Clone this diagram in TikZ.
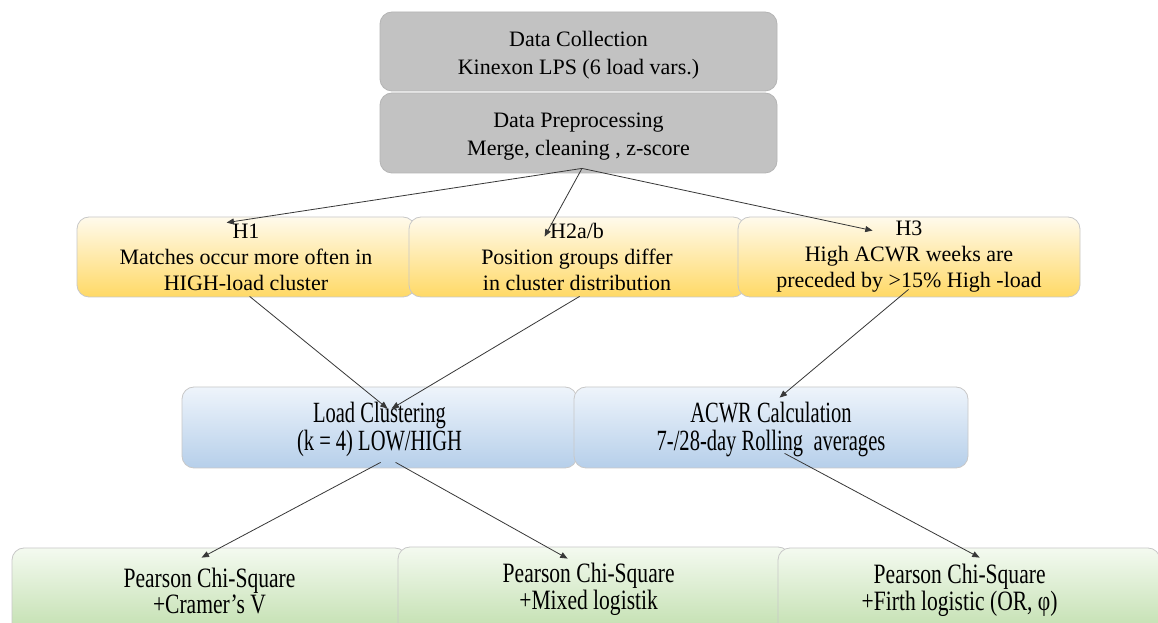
\documentclass[tikz,border=0pt]{standalone}
\usepackage{fontspec}
\setmainfont{Liberation Serif}
\newfontfamily\lcfont[FakeStretch=0.7]{Liberation Serif}
\newfontfamily\btfont[FakeStretch=0.77]{Liberation Serif}
\usetikzlibrary{arrows.meta}
\definecolor{grayfill}{RGB}{194,194,194}
\definecolor{grayedge}{RGB}{180,180,180}
\definecolor{edgec}{RGB}{200,200,200}
\definecolor{yeltop}{RGB}{255,250,236}
\definecolor{yelmid}{RGB}{255,238,186}
\definecolor{yelbot}{RGB}{255,217,102}
\definecolor{bluetop}{RGB}{238,244,251}
\definecolor{bluemid}{RGB}{214,228,244}
\definecolor{bluebot}{RGB}{182,207,234}
\definecolor{greentop}{RGB}{244,250,240}
\definecolor{greenmid}{RGB}{220,238,208}
\definecolor{greenbot}{RGB}{190,221,170}
\definecolor{linec}{RGB}{55,55,55}
\begin{document}
\begin{tikzpicture}[x=0.75pt,y=-0.75pt,
  box/.style={rectangle, rounded corners=9pt, draw=edgec, line width=0.6pt, inner sep=0pt},
  txt/.style={align=center, inner sep=0pt},
  graybox/.style={box, fill=grayfill, draw=grayedge, minimum width=297.75pt},
  graytxt/.style={txt, font=\fontsize{16.5pt}{21pt}\selectfont},
  hypbox/.style={box, top color=yeltop, middle color=yelmid, bottom color=yelbot, minimum height=60pt},
  hyptxt/.style={txt, font=\fontsize{16.5pt}{19.5pt}\selectfont},
  calcbox/.style={box, top color=bluetop, middle color=bluemid, bottom color=bluebot, minimum height=60.75pt},
  calctxt/.style={txt, font=\lcfont\fontsize{22pt}{21pt}\selectfont},
  testbox/.style={box, top color=greentop, middle color=greenmid, bottom color=greenbot, minimum height=69pt},
  testtxt/.style={txt, font=\btfont\fontsize{21pt}{17pt}\selectfont},
  conn/.style={draw=linec, line width=0.6pt, -{Triangle[length=5.5pt,width=4.5pt]}}]
\clip (0,0) rectangle (1158,623);
\fill[white] (0,0) rectangle (1158,623);

\node[graybox, minimum height=59.25pt] (dc) at (578.5,51.5) {};
\node[graytxt] (dct) at ([yshift=-3pt]dc.center) {Data Collection\\Kinexon LPS (6 load vars.)};
\node[graybox, minimum height=60pt] (pp) at (578.5,133) {};
\node[graytxt] (ppt) at ([yshift=-3pt]pp.center) {Data Preprocessing\\Merge, cleaning , z-score};

\node[hypbox, minimum width=253.5pt] (h1) at (246,257) {};
\node[hyptxt] (h1t) at (h1.center) {H1\\Matches occur more often in\\HIGH-load cluster};
\node[hypbox, minimum width=252pt] (h2) at (577,257) {};
\node[hyptxt] (h2t) at (h2.center) {H2a/b\\Position groups differ\\in cluster distribution};
\node[hypbox, minimum width=256.5pt] (h3) at (909,257) {};
\node[hyptxt] (h3t) at (h3.center) {H3\\High ACWR weeks are\\preceded by >15\% High -load};

\node[calcbox, minimum width=296.25pt] (lc) at (379.5,427.5) {};
\node[calctxt] (lct) at ([yshift=-1.5pt]lc.center) {Load Clustering\\(k = 4) LOW/HIGH};
\node[calcbox, minimum width=295.5pt] (ac) at (771,427.5) {};
\node[calctxt] (act) at ([yshift=-1.5pt]ac.center) {ACWR Calculation\\7-/28-day Rolling\ \ averages};

\node[testbox, minimum width=296.25pt] (b1) at (209.5,594) {};
\node[testtxt] (b1t) at ([yshift=2.5pt]b1.center) {Pearson Chi-Square\\+Cramer’s V};
\node[testbox, minimum width=294pt] (b2) at (594,593) {};
\node[testtxt] (b2t) at ([shift={(-4pt,2.5pt)}]b2.center) {Pearson Chi-Square\\+Mixed\ logistik};
\node[testbox, minimum width=286.5pt] (b3) at (969,594) {};
\node[testtxt] (b3t) at ([shift={(-7pt,2.5pt)}]b3.center) {Pearson Chi-Square\\+Firth\ logistic (OR,\ φ)};

\draw[conn] ([shift={(3.5,-5)}]pp.south) -- ([shift={(150,6)}]h1.north west);
\draw[conn] ([shift={(3.5,-5)}]pp.south) -- ([shift={(136,20)}]h2.north west);
\draw[conn] ([shift={(3.5,-5)}]pp.south) -- ([shift={(135,14)}]h3.north west);

\draw[conn] ([shift={(173,-1)}]h1.south west) -- ([shift={(206,22)}]lc.north west);
\draw[conn] ([shift={(171,-1)}]h2.south west) -- ([shift={(210,22)}]lc.north west);
\draw[conn] ([shift={(171,-8)}]h3.south west) -- ([shift={(206,11)}]ac.north west);

\draw[conn] ([shift={(199,-6)}]lc.south west) -- ([shift={(190,10)}]b1.north west);
\draw[conn] ([shift={(214,-6)}]lc.south west) -- ([shift={(170,12)}]b2.north west);
\draw[conn] ([shift={(211,-15)}]ac.south west) -- ([shift={(202,10)}]b3.north west);
\end{tikzpicture}
\end{document}
